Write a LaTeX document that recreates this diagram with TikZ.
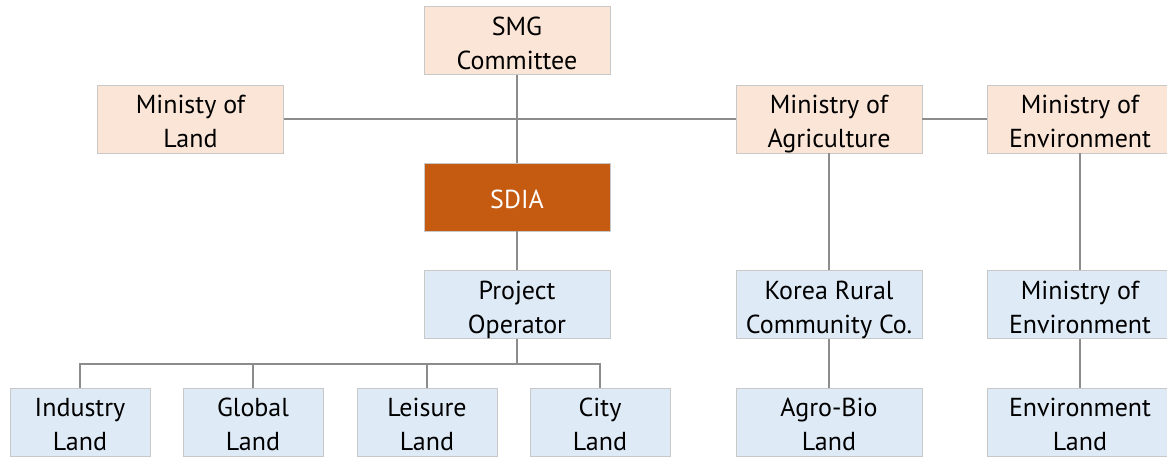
\documentclass[tikz,border=0pt]{standalone}
\usepackage{fontspec}
\setmainfont{PT Sans}
\usetikzlibrary{positioning}
\definecolor{peach}{RGB}{251,229,214}
\definecolor{rust}{RGB}{197,90,17}
\definecolor{paleblue}{RGB}{222,235,247}
\definecolor{rim}{RGB}{200,200,200}
\definecolor{wire}{RGB}{140,140,140}
\newcommand{\boxtext}[1]{\raisebox{-5pt}[\height][\depth]{\begin{tabular}{@{}c@{}}#1\end{tabular}}}

\begin{document}
\begin{tikzpicture}[x=1pt,y=-1pt,line width=1.2pt,draw=wire]
\tikzstyle{every node}=[font=\fontsize{26}{34}\selectfont,inner sep=0pt,minimum height=68pt,line width=0.8pt]
\tikzstyle{govbox}=[fill=peach,draw=rim,minimum width=186pt]
\tikzstyle{leadbox}=[fill=rust,draw=rim,text=white,minimum width=186pt]
\tikzstyle{opbox}=[fill=paleblue,draw=rim,minimum width=186pt]
\tikzstyle{landbox}=[fill=paleblue,draw=rim,minimum width=140pt]
\path[use as bounding box,clip] (0,0) rectangle (1167,456);
% the ministries
\node[govbox] (smg) at (517,40.5) {\boxtext{SMG\\Committee}};
\node[govbox] (land) at (190.5,119) {\boxtext{Ministy of\\Land}};
\node[govbox] (agri) at (829,119) {\boxtext{Ministry of\\Agriculture}};
\node[govbox] (envtop) at (1080,119) {\boxtext{Ministry of\\Environment}};
\node[leadbox] (sdia) at (517,197) {\boxtext{SDIA}};
% the operators
\node[opbox] (proj) at (517,304.5) {\boxtext{Project\\Operator}};
\node[opbox] (krc) at (829,304.5) {\boxtext{Korea Rural\\Community Co.}};
\node[opbox] (envop) at (1080,304.5) {\boxtext{Ministry of\\Environment}};
% the land parcels
\node[landbox] (ind) at (80,422) {\boxtext{Industry\\Land}};
\node[landbox,right of=ind,node distance=173pt] (glob) {\boxtext{Global\\Land}};
\node[landbox,right of=glob,node distance=174pt] (leis) {\boxtext{Leisure\\Land}};
\node[landbox,right of=leis,node distance=173pt] (city) {\boxtext{City\\Land}};
\node[opbox] (agro) at (829,422) {\boxtext{Agro-Bio\\Land}};
\node[opbox] (envland) at (1080,422) {\boxtext{Environment\\Land}};
\coordinate (bus) at (517,364);
\draw (land) -- (agri);
\draw (agri) -- (envtop);
\draw (smg) -- (sdia);
\draw (sdia) -- (proj);
\draw (proj) -- (bus);
\draw (ind.north) |- (city.north |- bus) -- (city.north);
\draw (glob.north) -- (glob.north |- bus);
\draw (leis.north) -- (leis.north |- bus);
\draw (agri) -- (krc);
\draw (krc) -- (agro);
\draw (envtop) -- (envop);
\draw (envop) -- (envland);
\end{tikzpicture}
\end{document}
